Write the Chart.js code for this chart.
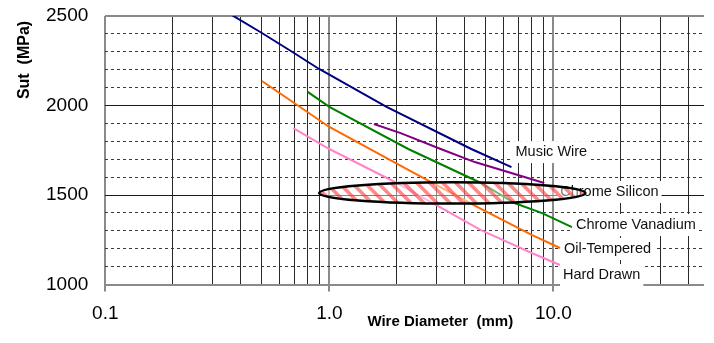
<!DOCTYPE html>
<html>
<head>
<meta charset="utf-8">
<script src="https://cdn.jsdelivr.net/npm/chart.js@4.4.1/dist/chart.umd.min.js"></script>
<style>
  body { margin: 0; background: #fff; }
  canvas { display: block; }
</style>
</head>
<body>
<canvas id="chart" width="714" height="343"></canvas>
<script>
// Wire diameter (mm) and ultimate tensile strength (MPa) per material
const musicWireD = [0.354, 0.5, 0.69, 0.9, 1.8, 4.3, 6.5];
const musicWireSut = [2517, 2405, 2296, 2204, 1992, 1757, 1656];

const chromeSiliconD = [1.58, 2.08, 3.14, 4.46, 7.0, 9.1];
const chromeSiliconSut = [1897, 1846, 1757, 1684, 1610, 1567];

const chromeVanadiumD = [0.8, 1.0, 2.25, 4.75, 6.7, 8.9, 12.1];
const chromeVanadiumSut = [2076, 1992, 1757, 1567, 1455, 1399, 1321];

const oilTemperedD = [0.5, 1.0, 2.25, 4.75, 8.0, 10.7];
const oilTemperedSut = [2137, 1880, 1640, 1422, 1277, 1204];

const hardDrawnD = [0.69, 1.0, 2.0, 4.75, 8.0, 10.7];
const hardDrawnSut = [1874, 1757, 1567, 1304, 1176, 1109];

const seriesNames = ['Music Wire', 'Chrome Silicon', 'Chrome Vanadium', 'Oil-Tempered', 'Hard Drawn'];
const seriesColors = ['#000080', '#800080', '#008000', '#ff6a00', '#ff85c8'];

// highlighted region (ellipse) around 1500 MPa
const ellipseD = [0.9, 13.9];
const ellipseSut = [1452, 1571];

// axis ticks
const xGridValues = [0.1, 0.2, 0.3, 0.4, 0.5, 0.6, 0.7, 0.8, 0.9,
  1, 2, 3, 4, 5, 6, 7, 8, 9, 10, 20, 30, 40];
const xLabelValues = [0.1, 1, 10];
const yLabelValues = [1000, 1500, 2000, 2500];

const FONT = "'Liberation Sans', Arial, sans-serif";

const toPoints = (d, s) => d.map((x, i) => ({ x: x, y: s[i] }));
const allSeries = [
  toPoints(musicWireD, musicWireSut),
  toPoints(chromeSiliconD, chromeSiliconSut),
  toPoints(chromeVanadiumD, chromeVanadiumSut),
  toPoints(oilTemperedD, oilTemperedSut),
  toPoints(hardDrawnD, hardDrawnSut),
];

// label placement relative to each line's last point (px)
const labelOffsets = [[4, -15], [16, 9], [4, -2], [4, 1], [3, 10]];

const isMajorX = (v) => xLabelValues.some((m) => Math.abs(m - v) < 1e-9);

const labelPlugin = {
  id: 'seriesLabels',
  afterDatasetsDraw(chart) {
    const ctx = chart.ctx;
    const xs = chart.scales.x;
    const ys = chart.scales.y;
    ctx.save();
    ctx.font = '14.5px ' + FONT;
    ctx.textBaseline = 'middle';
    allSeries.forEach((pts, i) => {
      const last = pts[pts.length - 1];
      const px = xs.getPixelForValue(last.x) + labelOffsets[i][0];
      const py = ys.getPixelForValue(last.y) + labelOffsets[i][1];
      const w = ctx.measureText(seriesNames[i]).width;
      ctx.fillStyle = '#fff';
      ctx.fillRect(px - 3, py - 11, w + 6, 22);
      ctx.fillStyle = '#111';
      ctx.fillText(seriesNames[i], px, py);
    });

    // hatched ellipse
    const x1 = xs.getPixelForValue(ellipseD[0]);
    const x2 = xs.getPixelForValue(ellipseD[1]);
    const y1 = ys.getPixelForValue(ellipseSut[1]);
    const y2 = ys.getPixelForValue(ellipseSut[0]);
    const cx = (x1 + x2) / 2, cy = (y1 + y2) / 2;
    const rx = (x2 - x1) / 2, ry = (y2 - y1) / 2;

    const pc = document.createElement('canvas');
    pc.width = 13; pc.height = 13;
    const p = pc.getContext('2d');
    p.strokeStyle = 'rgba(255,40,40,0.55)';
    p.lineWidth = 3.5;
    for (let k = -1; k <= 1; k++) {
      p.beginPath();
      p.moveTo(k * 13 - 2, -2);
      p.lineTo(k * 13 + 15, 15);
      p.stroke();
    }
    ctx.beginPath();
    ctx.ellipse(cx, cy, rx, ry, 0, 0, Math.PI * 2);
    ctx.fillStyle = 'rgba(255,255,255,0.45)';
    ctx.fill();
    ctx.fillStyle = ctx.createPattern(pc, 'repeat');
    ctx.fill();
    ctx.lineWidth = 2.5;
    ctx.strokeStyle = '#000';
    ctx.stroke();

    // axis titles
    ctx.fillStyle = '#000';
    ctx.font = 'bold 15px ' + FONT;
    ctx.textAlign = 'center';
    ctx.fillText('Wire Diameter  (mm)', chart.chartArea.left + 335, chart.chartArea.bottom + 37);
    ctx.translate(25, 60);
    ctx.rotate(-Math.PI / 2);
    ctx.font = 'bold 16px ' + FONT;
    ctx.fillText('Sut  (MPa)', 0, 0);
    ctx.restore();
  }
};

new Chart(document.getElementById('chart'), {
  type: 'line',
  data: {
    datasets: allSeries.map((pts, i) => ({
      label: seriesNames[i],
      data: pts,
      borderColor: seriesColors[i],
      borderWidth: 2,
      pointRadius: 0,
      tension: 0,
      fill: false,
    })),
  },
  options: {
    responsive: false,
    devicePixelRatio: 1,
    animation: false,
    layout: { padding: { top: 16, right: 10, left: 0, bottom: 0 } },
    plugins: {
      legend: { display: false },
      tooltip: { enabled: false },
    },
    scales: {
      x: {
        type: 'logarithmic',
        bounds: 'data',
        min: 0.1,
        max: 47,
        afterBuildTicks: (scale) => {
          scale.ticks = xGridValues.map((v) => ({ value: v, major: isMajorX(v) }));
        },
        afterFit: (scale) => {
          scale.height = 58.5;
          scale.paddingLeft = 0;
          scale.paddingRight = 0;
        },
        ticks: {
          autoSkip: false,
          maxRotation: 0,
          padding: 11,
          color: '#000',
          font: { family: FONT, size: 19 },
          callback: (v) => (isMajorX(v) ? Number(v).toFixed(1) : ''),
        },
        grid: {
          color: (c) => (c.tick && isMajorX(c.tick.value) ? '#8a8a8a' : '#2a2a2a'),
          lineWidth: (c) => (c.tick && isMajorX(c.tick.value) ? 2 : 1),
          tickLength: 7,
          tickColor: (c) => (c.tick && isMajorX(c.tick.value) ? '#8a8a8a' : 'rgba(0,0,0,0)'),
          tickWidth: 2,
        },
        border: { display: false },
      },
      y: {
        type: 'linear',
        min: 1000,
        max: 2500,
        afterFit: (scale) => {
          scale.width = 105.3;
          scale.paddingTop = 0;
          scale.paddingBottom = 0;
        },
        ticks: {
          stepSize: 100,
          maxTicksLimit: 30,
          autoSkip: false,
          padding: 17,
          color: '#000',
          font: { family: FONT, size: 19 },
          callback: (v) => (yLabelValues.includes(v) ? String(v) : ''),
        },
        grid: {
          drawTicks: false,
          color: (c) => {
            if (!c.tick) return '#333';
            const v = c.tick.value;
            if (v === 1000 || v === 2500) return '#8a8a8a';
            if (yLabelValues.includes(v)) return '#1a1a1a';
            return '#3a3a3a';
          },
          lineWidth: (c) => (c.tick && (c.tick.value === 1000 || c.tick.value === 2500) ? 2 : 1),
        },
        border: {
          display: false,
          dash: (c) => (c.tick && !yLabelValues.includes(c.tick.value) ? [3, 3] : []),
        },
      },
    },
  },
  plugins: [labelPlugin],
});
</script>
</body>
</html>
